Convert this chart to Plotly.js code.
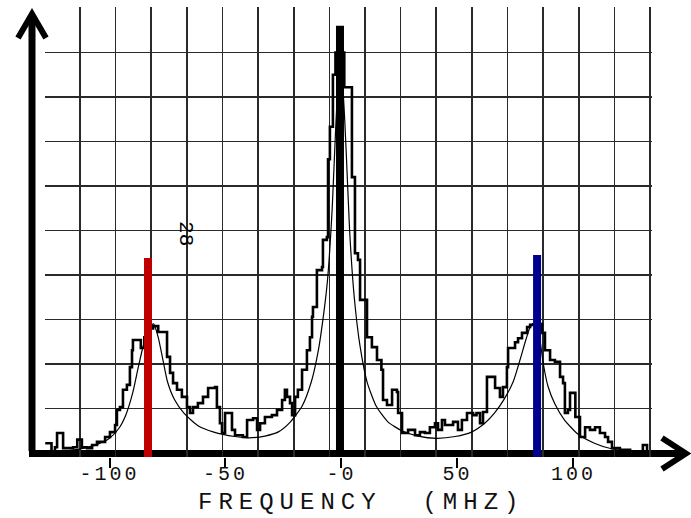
<!DOCTYPE html>
<html><head><meta charset="utf-8">
<script src="https://cdn.plot.ly/plotly-3.0.1.min.js"></script>
<style>
html,body{margin:0;padding:0;background:#fff;}
#chart{width:691px;height:518px;}
.xtick text{letter-spacing:3px;}
</style></head><body><div id="chart"></div>
<script>
// Measured histogram (step edges in MHz, heights in grid units)
const histFreq = [-127.7,-125,-123.5,-122.6,-120,-115.7,-113.9,-111.9,-109.7,-107.5,-105.4,-101.9,-99.8,-97.6,-96.8,-95.5,-94.2,-92.5,-91.2,-90.3,-89.9,-86.5,-85,-83.5,-81.2,-79,-75.2,-73.9,-72.6,-70.9,-68.8,-66.6,-65.3,-64.0,-61.9,-59.7,-57.5,-54.5,-53.7,-52.4,-51.5,-50.2,-47.2,-45.9,-42.5,-40.7,-38.1,-36.4,-35.1,-33.0,-30.0,-27.8,-25.6,-24.4,-23.5,-22.2,-21.3,-20.0,-18.8,-17.0,-14.9,-13.6,-12.7,-12.3,-10.6,-8.4,-8.0,-6.3,-5.8,-5.0,-3.7,-2.6,1.2,4.5,5.8,7.1,8.0,11.0,13.1,15.3,17.2,17.9,19.6,21.8,23.9,24.4,26.1,28.7,31.7,33.8,36.0,38.1,40.3,41.6,43.3,44.6,48.1,50.2,51.9,54.1,56.7,58.2,59.7,61.0,62.7,66.2,68.3,69.6,71.3,71.8,74.8,76.1,77.8,80.0,81.3,83.5,86.4,87.7,89.9,92.0,94.2,95.5,96.3,97.6,98.5,100.8,102.8,105.0,107.1,109.3,111.4,113.6,114.9,116.6,120.0,124.4,125.6,129.9,131.7];
const histCounts = [0.22,-0.08,0.13,0.45,0.11,0.13,0.3,0.13,0.11,0.18,0.25,0.36,0.47,0.63,0.97,1.03,1.42,1.53,1.93,2.31,2.54,2.36,2.6,2.8,2.85,2.72,2.16,1.8,1.57,1.42,1.26,1.03,0.9,1.03,1.12,1.26,1.46,1.48,1.03,0.67,0.45,0.9,0.52,0.4,0.36,0.74,0.78,0.52,0.67,0.81,0.85,0.97,1.19,1.42,1.26,1.12,0.85,1.26,1.42,1.87,2.31,2.6,3.06,3.28,4.11,4.18,4.79,4.85,6.6,7.33,8.5,9.0,8.22,6.2,4.49,4.34,3.44,2.6,2.38,2.09,1.87,1.19,1.08,1.42,1.37,0.9,0.45,0.52,0.4,0.47,0.45,0.58,0.67,0.52,0.74,0.63,0.7,0.52,0.74,0.9,0.85,0.9,0.67,0.92,1.71,1.46,1.26,1.48,1.93,2.36,2.49,2.58,2.7,2.83,2.88,2.9,2.7,2.31,2.09,2.05,1.71,1.57,0.9,0.97,1.35,0.81,0.36,0.58,0.52,0.58,0.45,0.36,0.25,0.11,0.07,0.0,-0.05,0.18,0.0];

// Fitted curve
const fitFreq = [-125,-120,-112,-105,-100,-96,-93,-90,-87.5,-85,-82.5,-81,-79,-77,-75,-72,-68,-62,-55,-46,-40,-33,-27,-22,-17,-13,-10,-7.5,-6,-4,-2.5,-1,0.5,2,3.5,5.5,8,11,15,20,26,33,41,49,56,62,66,70,74,77,79.5,81.5,83,85,87,89,92,96,102,109,116,124];
const fitValue = [0.02,0.04,0.1,0.2,0.33,0.55,0.85,1.35,1.95,2.5,2.85,2.9,2.6,2.1,1.6,1.2,0.9,0.62,0.47,0.37,0.34,0.38,0.48,0.7,1.05,1.6,2.3,3.2,3.9,5.5,7.3,8.5,8.2,6.8,5.0,3.5,2.4,1.6,1.05,0.7,0.5,0.38,0.33,0.37,0.47,0.68,0.9,1.2,1.6,2.1,2.55,2.85,2.92,2.7,2.0,1.5,1.1,0.75,0.42,0.22,0.1,0.03];

// Vertical marker lines
const lineFreq = [-83.4, -0.65, 84.3];
const lineTop = [4.38, 9.6, 4.45];
const lineColors = ['#c00000', '#000000', '#00008f'];
const lineBase = -0.1;

const tickVals = [-100, -50, 0, 50, 100];
const tickText = ['-100', '-50', '-0', '50', '100'];
const xTitle = 'FREQUENCY  (MHZ)';
const panelLabel = '28';

const W = 691, H = 518;
const PX = p => p / W;
const PY = p => 1 - p / H;

const traces = [
  {x: fitFreq, y: fitValue, mode: 'lines', line: {color: '#000', width: 1.2, shape: 'spline', smoothing: 0.6}, hoverinfo: 'skip', showlegend: false},
  {x: histFreq, y: histCounts, mode: 'lines', line: {color: '#000', width: 2.6, shape: 'hv'}, hoverinfo: 'skip', showlegend: false}
];
lineFreq.forEach((f, i) => {
  traces.push({x: [f, f], y: [lineBase, lineTop[i]], mode: 'lines',
    line: {color: lineColors[i], width: 8}, hoverinfo: 'skip', showlegend: false});
});

const gridRows = [];
for (let k = 1; k <= 10; k++) gridRows.push(k);

const shapes = [
  {type: 'line', xref: 'paper', yref: 'paper', x0: PX(32), y0: PY(451), x1: PX(32), y1: PY(16), line: {color: '#000', width: 7}, layer: 'below'},
  {type: 'path', xref: 'paper', yref: 'paper', path: `M ${PX(18)} ${PY(38)} L ${PX(32)} ${PY(14)} L ${PX(46)} ${PY(38)}`, line: {color: '#000', width: 6}, layer: 'below'},
  {type: 'line', xref: 'paper', yref: 'paper', x0: PX(29), y0: PY(453.5), x1: PX(683), y1: PY(453.5), line: {color: '#000', width: 7}, layer: 'below'},
  {type: 'path', xref: 'paper', yref: 'paper', path: `M ${PX(662)} ${PY(438)} L ${PX(686)} ${PY(453.5)} L ${PX(662)} ${PY(469)}`, line: {color: '#000', width: 6}, layer: 'below'}
];

const monoFont = 'Liberation Mono, DejaVu Sans Mono, monospace';

const layout = {
  width: W, height: H,
  margin: {l: 0, r: 0, t: 0, b: 0, pad: 0},
  paper_bgcolor: '#fff', plot_bgcolor: 'rgba(0,0,0,0)',
  showlegend: false,
  xaxis: {
    domain: [45 / W, 652 / W], range: [-127.8, 133.84],
    tickmode: 'array', tickvals: tickVals, ticktext: tickText,
    ticks: 'outside', ticklen: 10, tickwidth: 2, tickcolor: '#000',
    ticklabelstandoff: -12,
    showgrid: false, zeroline: false, showline: false,
    tickfont: {family: monoFont, size: 20, color: '#111'},
    minor: {tickmode: 'linear', tick0: -112.72, dtick: 15.356, ticks: '',
            showgrid: true, gridcolor: '#2a2a2a', gridwidth: 1.6}
  },
  yaxis: {
    domain: [1 - 457 / H, 1 - 7 / H], range: [-0.09, 10.022],
    tickmode: 'array', tickvals: gridRows, showticklabels: false, ticks: '',
    showgrid: true, gridcolor: '#2a2a2a', gridwidth: 1.6, zeroline: false, showline: false
  },
  shapes: shapes,
  annotations: [
    {xref: 'paper', yref: 'paper', x: 361 / W, y: PY(502), xanchor: 'center', yanchor: 'middle', showarrow: false,
     borderpad: 0,
     text: `<span style="letter-spacing:6px">${xTitle}</span>`,
     font: {family: monoFont, size: 24, color: '#111'}},
    {xref: 'x', yref: 'y', x: -67, y: 4.94, showarrow: false, textangle: 90, text: panelLabel,
     font: {family: monoFont, size: 21, color: '#000'}}
  ]
};

Plotly.newPlot('chart', traces, layout, {staticPlot: true, displayModeBar: false});
</script></body></html>
